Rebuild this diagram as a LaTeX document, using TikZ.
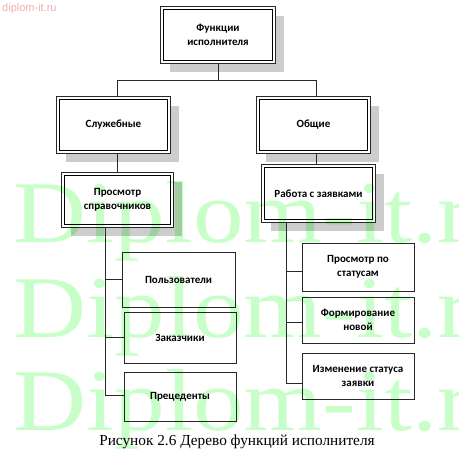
\documentclass[tikz,border=0pt]{standalone}
\usepackage{fontspec}
\setmainfont{Liberation Serif}
\newfontfamily\boxfont{Carlito}
\newfontfamily\wmsans{Liberation Sans}
\usetikzlibrary{backgrounds}
\definecolor{wmgreen}{RGB}{200,255,200}
\definecolor{wmpink}{RGB}{240,175,175}
\definecolor{shadowgray}{RGB}{205,205,205}
\definecolor{linegray}{RGB}{40,40,40}
\tikzset{
  mainbox/.style={align=center, inner sep=2pt,
    font=\boxfont\bfseries\fontsize{11}{13.5}\selectfont},
  leafbox/.style={draw=linegray, line width=0.7pt, align=center, inner sep=2pt,
    font=\boxfont\bfseries\fontsize{11}{13.5}\selectfont},
  outerline/.style={draw=linegray, line width=0.7pt},
  innerline/.style={draw=black, line width=1.1pt},
  conn/.style={draw=linegray, line width=0.8pt},
  shadowfill/.style={fill=shadowgray},
  wm/.style={text=wmgreen, font=\fontsize{88}{88}\selectfont, anchor=base west, xscale=1.15, inner sep=0pt}
}
\begin{document}
\begin{tikzpicture}[x=1pt,y=-1pt]
\useasboundingbox (0,0) rectangle (458,460);
% nodes
\node[mainbox, minimum width=114pt, minimum height=56pt] (top) at (218,35) {Функции\\исполнителя};
\node[mainbox, minimum width=113pt, minimum height=56pt] (slu) at (113.5,125) {Служебные};
\node[mainbox, minimum width=113pt, minimum height=56pt] (obs) at (313.5,125) {Общие};
\node[mainbox, minimum width=111pt, minimum height=54pt] (spr) at (117.5,200) {Просмотр\\справочников};
\node[mainbox, minimum width=113pt, minimum height=57pt] (rab) at (318.5,193.5) {Работа с заявками};
\node[leafbox, minimum width=113pt, minimum height=55pt] (pol) at (178.5,279.5) {Пользователи};
\node[leafbox, minimum width=112pt, minimum height=51pt] (zak) at (180,337.5) {Заказчики};
\node[leafbox, minimum width=112pt, minimum height=49pt] (pre) at (180,396.5) {Прецеденты};
\node[leafbox, minimum width=112pt, minimum height=48pt] (pst) at (358,267) {Просмотр по\\статусам};
\node[leafbox, minimum width=112pt, minimum height=46pt] (frm) at (358,320) {Формирование\\новой};
\node[leafbox, minimum width=112pt, minimum height=46pt] (izm) at (358,376) {Изменение статуса\\заявки};
% shadows, white fills and double borders behind the text
\begin{pgfonlayer}{background}
\fill[white] (0,0) rectangle (458,460);
\foreach \n in {top,slu,obs,spr,rab}{
  \fill[shadowfill] ([shift={(9,9)}]\n.south west) rectangle ([shift={(9,9)}]\n.north east);
  \fill[white] (\n.south west) rectangle (\n.north east);
  \draw[outerline] (\n.south west) rectangle (\n.north east);
  \draw[innerline] ([shift={(2.4,-2.4)}]\n.south west) rectangle ([shift={(-2.4,2.4)}]\n.north east);
}
\end{pgfonlayer}
% coordinates
\coordinate (hj) at (218,80);
\coordinate (hl) at (117,80);
\coordinate (hr) at (316,80);
\coordinate (lt) at (105,227);
\coordinate (lb1) at (105,279.5);
\coordinate (lb2) at (105,337.5);
\coordinate (lb3) at (105,395);
\coordinate (rt) at (286,222);
\coordinate (rb1) at (286,271);
\coordinate (rb2) at (286,322);
\coordinate (rb3) at (286,383);
% connectors
\draw[conn] (top.south -| hj) -- (hj);
\draw[conn] (hl) -- (hr);
\draw[conn] (hl) -- (hl |- slu.north);
\draw[conn] (hr) -- (hr |- obs.north);
\draw[conn] (slu.south -| hl) -- (hl |- spr.north);
\draw[conn] (obs.south -| hr) -- (hr |- rab.north);
\draw[conn] (lt) -- (lb3);
\draw[conn] (lb1) -- (lb1 -| pol.west);
\draw[conn] (lb2) -- (lb2 -| zak.west);
\draw[conn] (lb3) -- (lb3 -| pre.west);
\draw[conn] (rt) -- (rb3);
\draw[conn] (rb1) -- (rb1 -| pst.west);
\draw[conn] (rb2) -- (rb2 -| frm.west);
\draw[conn] (rb3) -- (rb3 -| izm.west);
% caption
\node[anchor=base, font=\fontsize{15.3}{15.3}\selectfont, inner sep=0pt] (cap) at (237,445) {Рисунок 2.6 Дерево функций исполнителя};
% watermarks (multiplied over the drawing)
\node[text=wmpink, font=\wmsans\fontsize{11}{11}\selectfont, anchor=north west, inner sep=0pt] (wmtop) at (2,3) {diplom-it.ru};
\begin{scope}[blend mode=multiply]
\clip (0,0) rectangle (458,460);
\node[wm] (wm1) at (13,242) {Diplom-it.ru};
\node[wm] (wm2) at (13,337) {Diplom-it.ru};
\node[wm] (wm3) at (13,430) {Diplom-it.ru};
\end{scope}
\end{tikzpicture}
\end{document}
